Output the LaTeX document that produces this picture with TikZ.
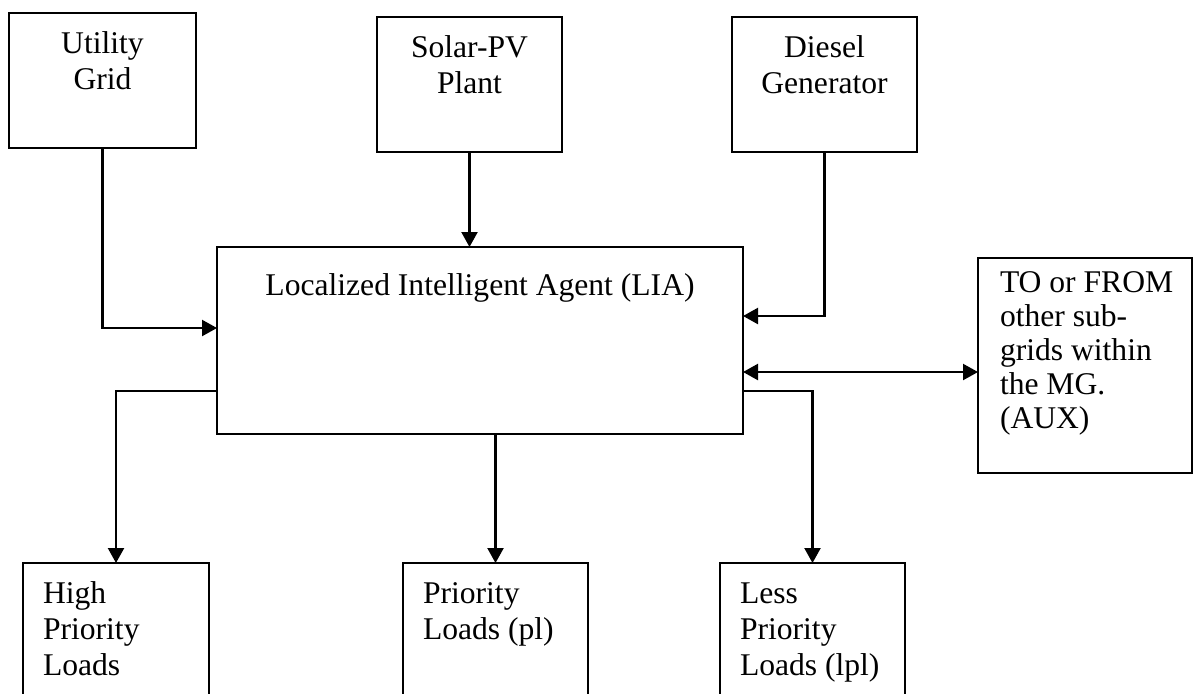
\documentclass[tikz,border=0pt]{standalone}
\usepackage{fontspec}
\setmainfont{Liberation Serif}
\usetikzlibrary{arrows.meta}
\newcommand{\boxtext}[4]{\parbox[t][#2][t]{#1}{\vspace*{\dimexpr#3-0.7\baselineskip\relax}#4}}
\tikzset{
  blk/.style={draw, line width=1.4pt, anchor=north west, inner sep=0pt, outer sep=0pt},
  flow/.style={line width=1.1pt, -{Triangle[length=7.5pt,width=8pt]}},
  both/.style={flow, {Triangle[length=7.5pt,width=8pt]}-{Triangle[length=7.5pt,width=8pt]}},
}
\begin{document}
\begin{tikzpicture}[x=0.5pt, y=-0.5pt, font=\fontsize{15.8pt}{18pt}\selectfont]
  \useasboundingbox (0,0) rectangle (1195,693);
  \clip (0,0) rectangle (1195,693);
  % sources
  \node[blk] (grid) at (9,13) {\boxtext{93.5pt}{67.5pt}{20pt}{\centering\strut Utility\\Grid}};
  \node[blk] (solar) at (377,17) {\boxtext{92.5pt}{67.5pt}{20pt}{\centering\strut Solar-PV\\Plant}};
  \node[blk] (diesel) at (732,17) {\boxtext{92.5pt}{67.5pt}{20pt}{\centering\strut Diesel\\Generator}};
  % agent
  \node[blk] (lia) at (217,247) {\boxtext{263pt}{93.5pt}{24pt}{\centering\strut Localized Intelligent Agent (LIA)}};
  \node[blk, font=\fontsize{15.8pt}{17pt}\selectfont] (aux) at (978,258) {\boxtext{107pt}{107.5pt}{17pt}{\raggedright\leftskip=11pt\strut TO or FROM\\other sub-\\grids within\\the MG.\\(AUX)}};
  % loads
  \node[blk] (high) at (23,563) {\boxtext{93pt}{75pt}{20pt}{\raggedright\leftskip=10pt\strut High\\Priority\\Loads}};
  \node[blk] (prio) at (403,563) {\boxtext{92.5pt}{75pt}{20pt}{\raggedright\leftskip=10pt\strut Priority\\Loads (pl)}};
  \node[blk] (less) at (720,563) {\boxtext{92.5pt}{75pt}{20pt}{\raggedright\leftskip=10pt\strut Less\\Priority\\Loads (lpl)}};

  \draw[flow] (grid) |- (lia.west |- 0,328);
  \draw[flow] (solar) -- (solar |- lia.north);
  \draw[flow] (diesel) |- (lia.east |- 0,316);
  \draw[both] (lia.east |- 0,372) -- (aux.west |- 0,372);
  \draw[flow] (lia.west |- 0,391) -| (high);
  \draw[flow] (lia.south -| prio) -- (prio);
  \draw[flow] (lia.east |- 0,391) -| (less);
\end{tikzpicture}
\end{document}
